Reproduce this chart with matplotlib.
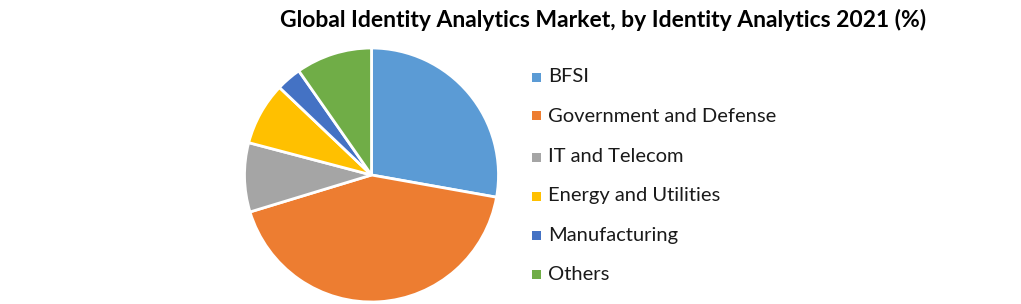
import matplotlib
matplotlib.use("Agg")
import matplotlib.pyplot as plt

categories = ["BFSI", "Government and Defense", "IT and Telecom",
              "Energy and Utilities", "Manufacturing", "Others"]
values = [27.8, 42.5, 8.8, 8.0, 3.2, 9.7]
colors = ["#5B9BD5", "#ED7D31", "#A5A5A5", "#FFC000", "#4472C4", "#70AD47"]
title = "Global Identity Analytics Market, by Identity Analytics 2021 (%)"

W, H = 1021, 304
fig = plt.figure(figsize=(W / 100, H / 100), dpi=100)
fig.patch.set_facecolor("white")

cx, cy, r = 371.5, 175, 127
ax = fig.add_axes([(cx - r) / W, (H - cy - r) / H, 2 * r / W, 2 * r / H])
ax.pie(values, colors=colors, startangle=90, counterclock=False,
       wedgeprops=dict(edgecolor="white", linewidth=2), radius=1)
ax.set_xlim(-1.0, 1.0)
ax.set_ylim(-1.0, 1.0)
ax.set_aspect("auto")
ax.axis("off")

fig.text(603 / W, 1 - 20 / H, title, ha="center", va="center",
         fontsize=16.5, fontweight="bold", family="Lato", color="black")

ys = [77, 116, 157, 196, 235, 274]
for cat, col, y in zip(categories, colors, ys):
    fig.patches.append(matplotlib.patches.Rectangle(
        (532 / W, 1 - (y + 4.5) / H), 9 / W, 9 / H, transform=fig.transFigure,
        facecolor=col, edgecolor="none"))
    fig.text(548 / W, 1 - y / H, cat, ha="left", va="center",
             fontsize=14.5, family="Lato", color="#1a1a1a")

fig.savefig("out.png", dpi=100)
